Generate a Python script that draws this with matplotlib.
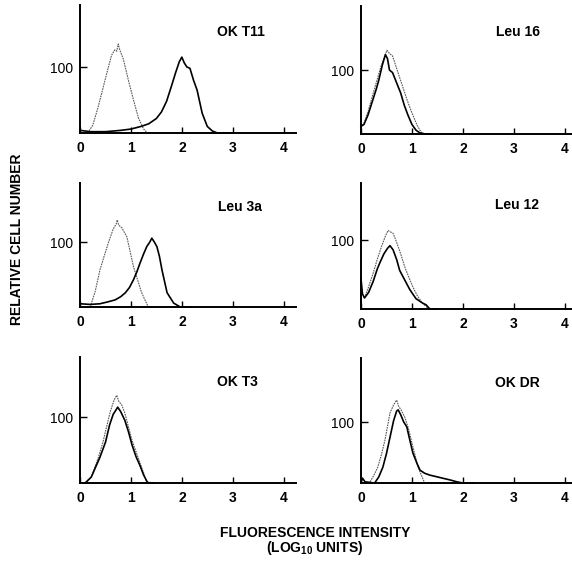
import matplotlib
matplotlib.use('Agg')
import matplotlib.pyplot as plt

plt.rcParams.update({'font.family': 'Liberation Sans',
                     'font.size': 10,
                     'mathtext.fontset': 'custom',
                     'mathtext.rm': 'Liberation Sans',
                     'mathtext.bf': 'Liberation Sans:bold',
                     'mathtext.default': 'bf'})

# panel names, row by row
names = ['OK T11', 'Leu 16', 'Leu 3a', 'Leu 12', 'OK T3', 'OK DR']

# control (dotted) histograms
ctl_x = [
    [0.15, 0.25, 0.35, 0.45, 0.55, 0.62, 0.68, 0.72, 0.75, 0.78, 0.85, 0.95, 1.05, 1.15, 1.25, 1.32, 1.5],
    [0.0, 0.06, 0.14, 0.22, 0.3, 0.39, 0.45, 0.51, 0.56, 0.62, 0.69, 0.76, 0.84, 0.92, 1.0, 1.1, 1.18, 1.26, 1.4],
    [0.2, 0.3, 0.39, 0.48, 0.56, 0.65, 0.71, 0.73, 0.76, 0.82, 0.92, 1.05, 1.21, 1.34, 1.5],
    [0.07, 0.15, 0.24, 0.32, 0.4, 0.47, 0.53, 0.58, 0.63, 0.7, 0.78, 0.86, 0.94, 1.02, 1.1, 1.2, 1.3, 1.4],
    [0.1, 0.22, 0.36, 0.45, 0.52, 0.6, 0.67, 0.72, 0.76, 0.82, 0.88, 1.02, 1.18, 1.31, 1.45],
    [0.18, 0.25, 0.33, 0.4, 0.47, 0.57, 0.64, 0.7, 0.74, 0.8, 0.86, 0.93, 1.0, 1.12, 1.25, 1.4],
]
ctl_y = [
    [0, 12, 38, 68, 98, 118, 126, 124, 135, 126, 112, 80, 50, 22, 6, 0, 0],
    [10, 17, 35, 58, 80, 105, 118, 131, 126, 122, 105, 88, 69, 50, 33, 14, 3, 0, 0],
    [0, 25, 57, 80, 100, 120, 128, 134, 126, 122, 108, 62, 22, 0, 0],
    [16, 32, 52, 72, 90, 104, 114, 112, 110, 97, 80, 61, 46, 32, 20, 9, 2, 0],
    [0, 9, 39, 62, 85, 110, 126, 133, 124, 118, 106, 65, 30, 2, 0],
    [2, 12, 26, 46, 70, 115, 128, 136, 126, 118, 108, 90, 66, 26, 0, 0],
]

# stained (solid) histograms
smp_x = [
    [0.0, 0.2, 0.5, 0.8, 1.0, 1.2, 1.35, 1.5, 1.6, 1.7, 1.8, 1.88, 1.95, 2.0, 2.05, 2.1, 2.16, 2.23, 2.3, 2.4, 2.5, 2.6, 2.7, 3.0],
    [0.0, 0.06, 0.14, 0.22, 0.3, 0.35, 0.42, 0.48, 0.52, 0.56, 0.62, 0.7, 0.78, 0.85, 0.92, 1.0, 1.08, 1.15, 1.25, 1.4],
    [0.0, 0.2, 0.39, 0.55, 0.69, 0.8, 0.89, 0.97, 1.05, 1.12, 1.18, 1.25, 1.31, 1.37, 1.41, 1.46, 1.51, 1.56, 1.61, 1.71, 1.84, 1.97, 2.2],
    [0.0, 0.0, 0.03, 0.07, 0.15, 0.24, 0.32, 0.37, 0.45, 0.52, 0.57, 0.63, 0.7, 0.76, 0.86, 0.96, 1.08, 1.2, 1.28, 1.35, 1.5],
    [0.1, 0.22, 0.39, 0.5, 0.58, 0.65, 0.7, 0.74, 0.8, 0.88, 0.95, 1.02, 1.1, 1.18, 1.25, 1.33, 1.45],
    [0.0, 0.03, 0.08, 0.27, 0.35, 0.43, 0.5, 0.57, 0.64, 0.7, 0.73, 0.78, 0.84, 0.9, 0.96, 1.02, 1.1, 1.16, 1.25, 1.35, 1.5, 1.6, 1.75, 1.88, 2.0, 2.2],
]
smp_y = [
    [4, 2, 2, 4, 6, 10, 14, 22, 32, 48, 72, 92, 108, 115, 106, 100, 98, 80, 65, 30, 10, 3, 0, 0],
    [12, 15, 30, 50, 70, 84, 108, 124, 118, 100, 96, 80, 64, 45, 30, 15, 6, 2, 0, 0],
    [5, 4, 5, 8, 11, 16, 22, 30, 42, 55, 68, 82, 93, 100, 106, 100, 93, 78, 57, 22, 6, 0, 0],
    [0, 45, 22, 16, 24, 40, 58, 67, 80, 88, 92, 86, 72, 56, 42, 28, 15, 9, 6, 0, 0],
    [0, 9, 39, 62, 88, 104, 110, 115, 108, 95, 78, 58, 40, 26, 12, 0, 0],
    [0, 8, 2, 0, 10, 26, 48, 75, 102, 118, 120, 112, 100, 92, 70, 49, 32, 21, 16, 13, 10, 8, 5, 2, 0, 0],
]

# axes placement in figure fractions and y range per panel
boxes = [
    [0.140, 0.7646, 0.378, 0.2265], [0.631, 0.7628, 0.369, 0.2265],
    [0.140, 0.4566, 0.378, 0.2195], [0.631, 0.4531, 0.369, 0.2230],
    [0.140, 0.1451, 0.378, 0.2230], [0.631, 0.1451, 0.369, 0.2212],
]
ymax = [194, 200, 191, 183, 191, 205]
xmax = [4.25, 4.14, 4.25, 4.14, 4.25, 4.14]
label_pos = [(241, 32), (518, 32), (240, 207), (517, 205), (237, 382), (517, 383)]

fig = plt.figure(figsize=(5.72, 5.65), dpi=100)

for i in range(6):
    ax = fig.add_axes(boxes[i])
    ax.plot(ctl_x[i], ctl_y[i], color='0.35', lw=0.8, ls=(0, (1.5, 0.8)), clip_on=False)
    ax.plot(smp_x[i], smp_y[i], color='black', lw=1.2, clip_on=False)
    ax.set_xlim(0, xmax[i])
    ax.set_ylim(0, ymax[i])
    for s in ['top', 'right']:
        ax.spines[s].set_visible(False)
    for s in ['left', 'bottom']:
        ax.spines[s].set_linewidth(1.4)
    ax.set_xticks([0, 1, 2, 3, 4])
    ax.set_xticklabels(['0', '1', '2', '3', '4'], fontweight='bold', fontsize=10)
    ax.set_yticks([100])
    ax.set_yticklabels(['100'], fontsize=10)
    ax.tick_params(direction='in', length=4, width=1.0, pad=6)
    ax.tick_params(axis='y', length=5, pad=5)
    ax.patch.set_alpha(0)
    fig.text(label_pos[i][0] / 572, 1 - label_pos[i][1] / 565, names[i],
             ha='center', va='center', fontsize=10, fontweight='bold')

fig.text(17 / 572, 1 - 239 / 565, 'RELATIVE CELL NUMBER', rotation=90,
         ha='center', va='center', fontsize=10, fontweight='bold')
fig.text(315 / 572, 1 - 533 / 565, 'FLUORESCENCE INTENSITY',
         ha='center', va='center', fontsize=10, fontweight='bold')
fig.text(315 / 572, 1 - 548 / 565, r'(LOG$_{10}$ UNITS)',
         ha='center', va='center', fontsize=10, fontweight='bold')

fig.savefig('out.png', dpi=100)
